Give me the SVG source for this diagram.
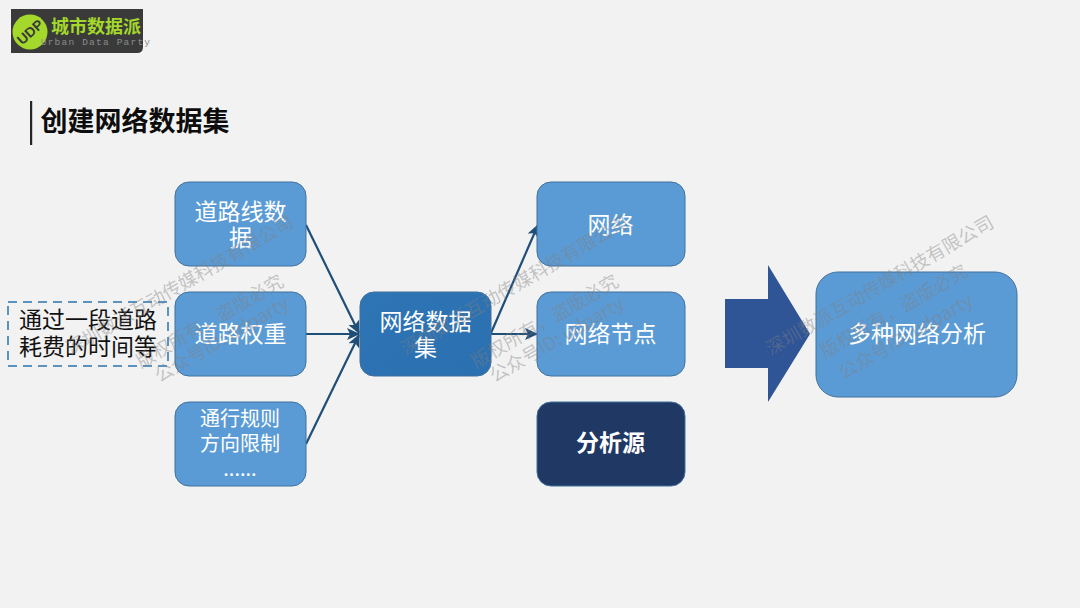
<svg xmlns="http://www.w3.org/2000/svg" width="1080" height="608" viewBox="0 0 1080 608">
<style>
text{font-family:"Noto Sans CJK SC","Noto Sans",sans-serif;text-anchor:middle}
.n{stroke:#41719c;stroke-width:1}
.l{fill:#5b9bd5}
.t{fill:#fff;font-size:23px}
.c{stroke:#1f4e79;stroke-width:2.2;fill:none;marker-end:url(#a)}
.w text{fill:#7f7f7f;fill-opacity:.42;font-size:18.5px}
</style>
<defs>
<marker id="a" markerUnits="userSpaceOnUse" markerWidth="13" markerHeight="12" refX="12" refY="6" orient="auto"><path d="M0 0L13 6L0 12L3 6Z" fill="#1f4e79"/></marker>
<linearGradient id="g" x1="0" y1="0" x2="1" y2="1"><stop offset="0" stop-color="#2e75b6"/><stop offset="1" stop-color="#2b70b0"/></linearGradient>
</defs>
<rect width="1080" height="608" fill="#f2f2f2"/>
<g id="logo">
<path d="M11 9H143V47Q143 53 137 53H11Z" fill="#3a3a3a"/>
<circle cx="30" cy="32" r="17.5" fill="#a4d82a"/>
<text x="30" y="37" transform="rotate(-42 30 32)" style="font-size:14px;font-weight:900;fill:#3a3a3a;font-family:'Liberation Sans',sans-serif">UDP</text>
<text x="96" y="33" style="font-size:18px;font-weight:700;fill:#a4d82a">城市数据派</text>
<text x="96" y="45" style="font-size:9.5px;letter-spacing:1.2px;fill:#8a8a8a;font-family:'Liberation Mono',monospace">Urban Data Party</text>
</g>
<g id="title">
<rect x="30" y="101" width="2.2" height="44" fill="#262626"/>
<text x="135" y="131" style="font-size:27px;font-weight:700;fill:#0d0d0d">创建网络数据集</text>
</g>
<g id="connectors">
<line class="c" x1="306" y1="225" x2="359" y2="333"/>
<line class="c" x1="306" y1="334" x2="359" y2="334"/>
<line class="c" x1="306" y1="444" x2="359" y2="335"/>
<line class="c" x1="491" y1="333" x2="538" y2="225"/>
<line class="c" x1="491" y1="334" x2="537" y2="334"/>
</g>
<g id="node-road-line"><rect class="n l" x="175" y="182" width="131" height="84" rx="14"/><text class="t" x="240.500" y="220">道路线数</text><text class="t" x="240.500" y="246">据</text></g>
<g id="node-road-weight"><rect class="n l" x="175" y="292" width="131" height="84" rx="14"/><text class="t" x="240.500" y="342">道路权重</text></g>
<g id="node-rules"><rect class="n l" x="175" y="402" width="131" height="84" rx="14"/><text class="t" x="240" y="426" style="font-size:20px">通行规则</text><text class="t" x="240" y="451" style="font-size:20px">方向限制</text><text class="t" x="240" y="476" style="font-size:20px">......</text></g>
<g id="note"><rect x="8" y="302" width="160" height="64" fill="none" stroke="#5b93c0" stroke-width="2" stroke-dasharray="9 6"/><text x="88" y="328" style="font-size:23px;fill:#111">通过一段道路</text><text x="88" y="355" style="font-size:23px;fill:#111">耗费的时间等</text></g>
<g id="node-dataset"><rect class="n" fill="url(#g)" x="360" y="292" width="131" height="84" rx="14"/><text class="t" x="425.500" y="330">网络数据</text><text class="t" x="425.500" y="356">集</text></g>
<g id="node-network"><rect class="n l" x="537" y="182" width="148" height="84" rx="14"/><text class="t" x="610.500" y="233">网络</text></g>
<g id="node-junctions"><rect class="n l" x="537" y="292" width="148" height="84" rx="14"/><text class="t" x="610.500" y="342">网络节点</text></g>
<g id="node-source"><rect x="537" y="402" width="148" height="84" rx="14" fill="#1f3864" stroke="#41719c"/><text class="t" x="610.500" y="451" style="font-weight:700">分析源</text></g>
<g id="big-arrow"><path d="M725 299H768V265L810 334L768 402V368H725Z" fill="#2f5597"/></g>
<g id="node-analysis"><rect class="n l" x="816" y="272" width="201" height="125" rx="22"/><text class="t" x="917" y="342">多种网络分析</text></g>
<g class="w" id="watermark-1"><text transform="translate(183 291) rotate(-30)">深圳数派互动传媒科技有限公司</text><text transform="translate(213 327) rotate(-30)">版权所有，盗版必究</text><text transform="translate(225 345) rotate(-30)">公众号ID: udparty</text></g>
<g class="w" id="watermark-2"><text transform="translate(518 291) rotate(-30)">深圳数派互动传媒科技有限公司</text><text transform="translate(548 327) rotate(-30)">版权所有，盗版必究</text><text transform="translate(560 345) rotate(-30)">公众号ID: udparty</text></g>
<g class="w" id="watermark-3"><text transform="translate(883 291) rotate(-30)">深圳数派互动传媒科技有限公司</text><text transform="translate(897 317) rotate(-30)">版权所有，盗版必究</text><text transform="translate(909 342) rotate(-30)">公众号ID: udparty</text></g>
</svg>
